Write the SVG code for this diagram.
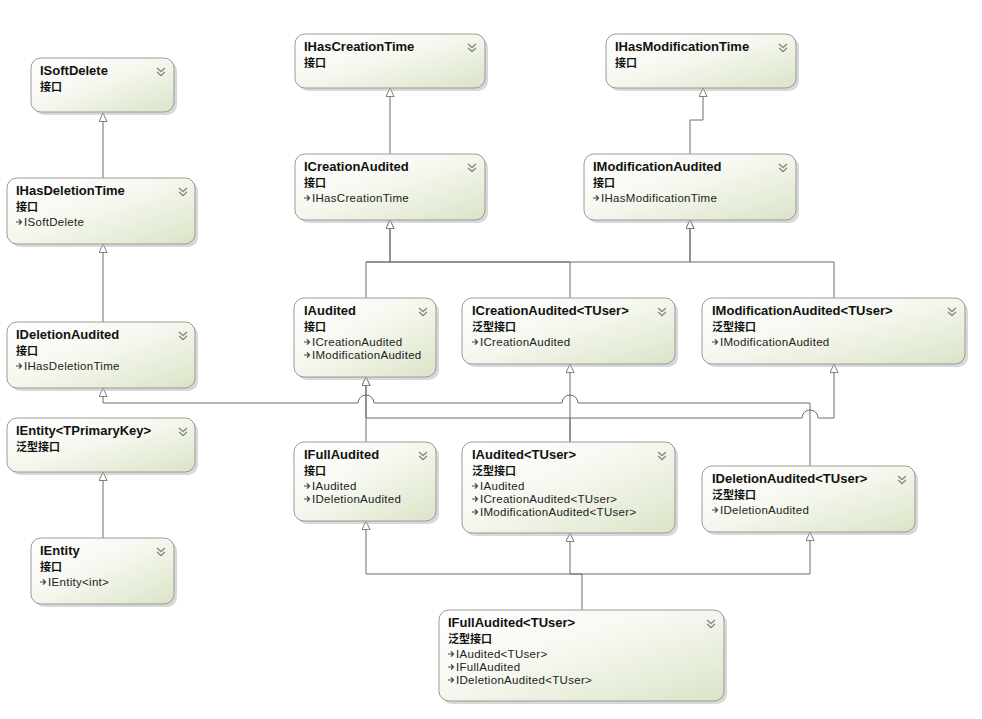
<svg xmlns="http://www.w3.org/2000/svg" width="982" height="719" viewBox="0 0 982 719">
<defs>
<linearGradient id="g" x1="0" y1="0" x2="1" y2="1">
<stop offset="0" stop-color="#ffffff"/>
<stop offset="0.45" stop-color="#f6f8f0"/>
<stop offset="1" stop-color="#dae4c7"/>
</linearGradient>
<marker id="tri" viewBox="0 0 10 10" refX="10" refY="5" markerWidth="9" markerHeight="9" markerUnits="userSpaceOnUse" orient="auto">
<path d="M0.5,0.5 L10,5 L0.5,9.5 z" fill="#fff" stroke="#6e6e6e" stroke-width="1"/>
</marker>
<g id="chev"><path d="M0,0 L4,3.5 L8,0 M0,4 L4,7.5 L8,4" fill="none" stroke="#8a8a8a" stroke-width="1.4"/></g>
<g id="inh"><path d="M0,0 L5,0 M3,-2.5 L5.5,0 L3,2.5" fill="none" stroke="#444" stroke-width="1.2"/></g>
</defs>
<style>
.box{fill:url(#g);stroke:#9a9a9a;stroke-width:1}
.sh{fill:#b8b8b8;opacity:0.55}
.t{font-family:"Liberation Sans","Open Sans",sans-serif;font-weight:bold;font-size:13px;fill:#111}
.s{font-family:"Noto Sans CJK SC","Noto Sans",sans-serif;font-weight:bold;font-size:11px;fill:#111}
.m{font-family:"Liberation Sans","Open Sans",sans-serif;font-size:11.5px;letter-spacing:0.3px;fill:#222}
.c{fill:none;stroke:#6e6e6e;stroke-width:1}
</style>
<rect width="982" height="719" fill="#fff"/>

<g id="connectors">
<path class="c" d="M103,178 L103,113" marker-end="url(#tri)"/>
<path class="c" d="M103,322 L103,244" marker-end="url(#tri)"/>
<path class="c" d="M103,538 L103,472" marker-end="url(#tri)"/>
<path class="c" d="M390,154 L390,88" marker-end="url(#tri)"/>
<path class="c" d="M690,154 L690,120 L703,120 L703,88" marker-end="url(#tri)"/>
<path class="c" d="M366,298 L366,262 L390,262 L390,220" marker-end="url(#tri)"/>
<path class="c" d="M570,298 L570,262 L390,262 L390,220" marker-end="url(#tri)"/>
<path class="c" d="M366,262 L690,262 L690,220" marker-end="url(#tri)"/>
<path class="c" d="M834,298 L834,262 L690,262 L690,220" marker-end="url(#tri)"/>
<path class="c" d="M366,442 L366,377" marker-end="url(#tri)"/>
<path class="c" d="M570,442 L570,418 L366,418 L366,377" marker-end="url(#tri)"/>
<path class="c" d="M570,442 L570,364" marker-end="url(#tri)"/>
<path class="c" d="M570,418 L802,418 A8,8 0 0 1 818,418 L834,418 L834,364" marker-end="url(#tri)"/>
<path class="c" d="M810,466 L810,403 L578,403 A8,8 0 0 0 562,403 L374,403 A8,8 0 0 0 358,403 L103,403 L103,388" marker-end="url(#tri)"/>
<path class="c" d="M582,610 L582,574 L366,574 L366,521" marker-end="url(#tri)"/>
<path class="c" d="M582,574 L570,574 L570,533" marker-end="url(#tri)"/>
<path class="c" d="M582,574 L810,574 L810,532" marker-end="url(#tri)"/>
</g>

<g id="ISoftDelete">
<rect class="sh" x="34" y="61" width="143" height="54" rx="10"/>
<rect class="box" x="31" y="58" width="143" height="54" rx="10"/>
<text class="t" x="40" y="75">ISoftDelete</text>
<text class="s" x="40" y="91">接口</text>
<use href="#chev" x="157" y="68"/>
</g>

<g id="IHasDeletionTime">
<rect class="sh" x="10" y="181" width="188" height="66" rx="10"/>
<rect class="box" x="7" y="178" width="188" height="66" rx="10"/>
<text class="t" x="16" y="195">IHasDeletionTime</text>
<text class="s" x="16" y="211">接口</text>
<use href="#inh" x="16" y="222"/>
<text class="m" x="24" y="226">ISoftDelete</text>
<use href="#chev" x="179" y="188"/>
</g>

<g id="IDeletionAudited">
<rect class="sh" x="10" y="325" width="188" height="66" rx="10"/>
<rect class="box" x="7" y="322" width="188" height="66" rx="10"/>
<text class="t" x="16" y="339">IDeletionAudited</text>
<text class="s" x="16" y="355">接口</text>
<use href="#inh" x="16" y="366"/>
<text class="m" x="24" y="370">IHasDeletionTime</text>
<use href="#chev" x="179" y="332"/>
</g>

<g id="IEntity_TPrimaryKey">
<rect class="sh" x="10" y="421" width="188" height="54" rx="10"/>
<rect class="box" x="7" y="418" width="188" height="54" rx="10"/>
<text class="t" x="16" y="435">IEntity&lt;TPrimaryKey&gt;</text>
<text class="s" x="16" y="451">泛型接口</text>
<use href="#chev" x="179" y="428"/>
</g>

<g id="IEntity">
<rect class="sh" x="34" y="541" width="143" height="66" rx="10"/>
<rect class="box" x="31" y="538" width="143" height="66" rx="10"/>
<text class="t" x="40" y="555">IEntity</text>
<text class="s" x="40" y="571">接口</text>
<use href="#inh" x="40" y="582"/>
<text class="m" x="48" y="586">IEntity&lt;int&gt;</text>
<use href="#chev" x="157" y="548"/>
</g>

<g id="IHasCreationTime">
<rect class="sh" x="298" y="37" width="190" height="54" rx="10"/>
<rect class="box" x="295" y="34" width="190" height="54" rx="10"/>
<text class="t" x="304" y="51">IHasCreationTime</text>
<text class="s" x="304" y="67">接口</text>
<use href="#chev" x="468" y="44"/>
</g>

<g id="IHasModificationTime">
<rect class="sh" x="609" y="37" width="190" height="54" rx="10"/>
<rect class="box" x="606" y="34" width="190" height="54" rx="10"/>
<text class="t" x="615" y="51">IHasModificationTime</text>
<text class="s" x="615" y="67">接口</text>
<use href="#chev" x="779" y="44"/>
</g>

<g id="ICreationAudited">
<rect class="sh" x="298" y="157" width="190" height="66" rx="10"/>
<rect class="box" x="295" y="154" width="190" height="66" rx="10"/>
<text class="t" x="304" y="171">ICreationAudited</text>
<text class="s" x="304" y="187">接口</text>
<use href="#inh" x="304" y="198"/>
<text class="m" x="312" y="202">IHasCreationTime</text>
<use href="#chev" x="468" y="164"/>
</g>

<g id="IModificationAudited">
<rect class="sh" x="587" y="157" width="212" height="66" rx="10"/>
<rect class="box" x="584" y="154" width="212" height="66" rx="10"/>
<text class="t" x="593" y="171">IModificationAudited</text>
<text class="s" x="593" y="187">接口</text>
<use href="#inh" x="593" y="198"/>
<text class="m" x="601" y="202">IHasModificationTime</text>
<use href="#chev" x="779" y="164"/>
</g>

<g id="IAudited">
<rect class="sh" x="297" y="301" width="142" height="79" rx="10"/>
<rect class="box" x="294" y="298" width="142" height="79" rx="10"/>
<text class="t" x="304" y="315">IAudited</text>
<text class="s" x="304" y="331">接口</text>
<use href="#inh" x="304" y="342"/>
<text class="m" x="312" y="346">ICreationAudited</text>
<use href="#inh" x="304" y="355"/>
<text class="m" x="312" y="359">IModificationAudited</text>
<use href="#chev" x="419" y="308"/>
</g>

<g id="ICreationAudited_TUser">
<rect class="sh" x="465" y="301" width="213" height="66" rx="10"/>
<rect class="box" x="462" y="298" width="213" height="66" rx="10"/>
<text class="t" x="472" y="315">ICreationAudited&lt;TUser&gt;</text>
<text class="s" x="472" y="331">泛型接口</text>
<use href="#inh" x="472" y="342"/>
<text class="m" x="480" y="346">ICreationAudited</text>
<use href="#chev" x="658" y="308"/>
</g>

<g id="IModificationAudited_TUser">
<rect class="sh" x="705" y="301" width="263" height="66" rx="10"/>
<rect class="box" x="702" y="298" width="263" height="66" rx="10"/>
<text class="t" x="712" y="315">IModificationAudited&lt;TUser&gt;</text>
<text class="s" x="712" y="331">泛型接口</text>
<use href="#inh" x="712" y="342"/>
<text class="m" x="720" y="346">IModificationAudited</text>
<use href="#chev" x="948" y="308"/>
</g>

<g id="IFullAudited">
<rect class="sh" x="297" y="445" width="142" height="79" rx="10"/>
<rect class="box" x="294" y="442" width="142" height="79" rx="10"/>
<text class="t" x="304" y="459">IFullAudited</text>
<text class="s" x="304" y="475">接口</text>
<use href="#inh" x="304" y="486"/>
<text class="m" x="312" y="490">IAudited</text>
<use href="#inh" x="304" y="499"/>
<text class="m" x="312" y="503">IDeletionAudited</text>
<use href="#chev" x="419" y="452"/>
</g>

<g id="IAudited_TUser">
<rect class="sh" x="465" y="445" width="213" height="91" rx="10"/>
<rect class="box" x="462" y="442" width="213" height="91" rx="10"/>
<text class="t" x="472" y="459">IAudited&lt;TUser&gt;</text>
<text class="s" x="472" y="475">泛型接口</text>
<use href="#inh" x="472" y="486"/>
<text class="m" x="480" y="490">IAudited</text>
<use href="#inh" x="472" y="499"/>
<text class="m" x="480" y="503">ICreationAudited&lt;TUser&gt;</text>
<use href="#inh" x="472" y="512"/>
<text class="m" x="480" y="516">IModificationAudited&lt;TUser&gt;</text>
<use href="#chev" x="658" y="452"/>
</g>

<g id="IDeletionAudited_TUser">
<rect class="sh" x="705" y="469" width="213" height="66" rx="10"/>
<rect class="box" x="702" y="466" width="213" height="66" rx="10"/>
<text class="t" x="712" y="483">IDeletionAudited&lt;TUser&gt;</text>
<text class="s" x="712" y="499">泛型接口</text>
<use href="#inh" x="712" y="510"/>
<text class="m" x="720" y="514">IDeletionAudited</text>
<use href="#chev" x="898" y="476"/>
</g>

<g id="IFullAudited_TUser">
<rect class="sh" x="442" y="613" width="285" height="91" rx="10"/>
<rect class="box" x="439" y="610" width="285" height="91" rx="10"/>
<text class="t" x="448" y="627">IFullAudited&lt;TUser&gt;</text>
<text class="s" x="448" y="643">泛型接口</text>
<use href="#inh" x="448" y="654"/>
<text class="m" x="456" y="658">IAudited&lt;TUser&gt;</text>
<use href="#inh" x="448" y="667"/>
<text class="m" x="456" y="671">IFullAudited</text>
<use href="#inh" x="448" y="680"/>
<text class="m" x="456" y="684">IDeletionAudited&lt;TUser&gt;</text>
<use href="#chev" x="707" y="620"/>
</g>
</svg>
